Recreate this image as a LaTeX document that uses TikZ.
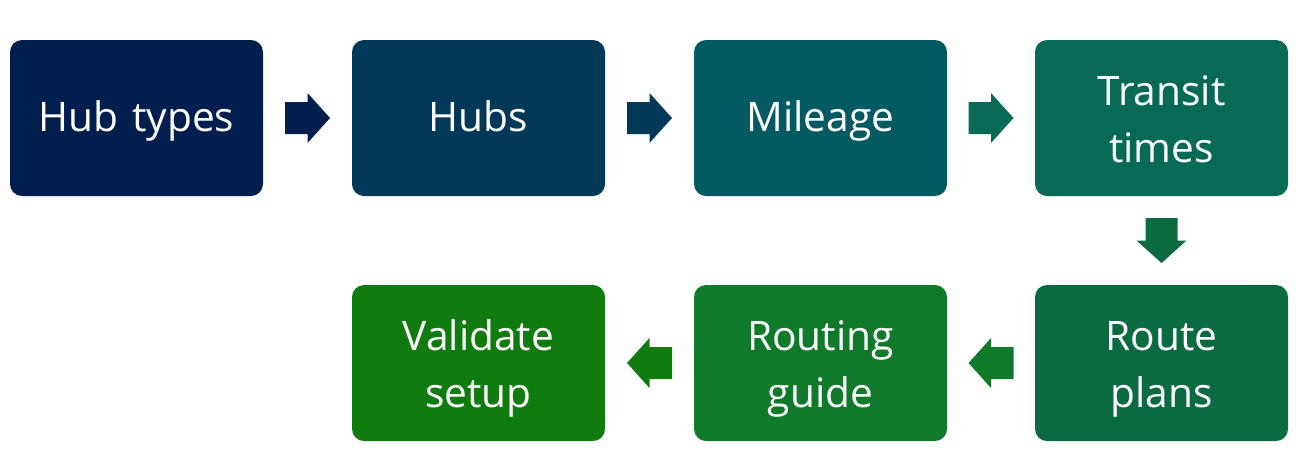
\documentclass[tikz,border=0pt]{standalone}
\usepackage{fontspec}
\setmainfont{Open Sans}
\usetikzlibrary{calc}

\definecolor{cHubTypes}{HTML}{001E4E}
\definecolor{cHubs}{HTML}{023858}
\definecolor{cMileage}{HTML}{045A62}
\definecolor{cTransit}{HTML}{066A55}
\definecolor{cRoute}{HTML}{0A6B40}
\definecolor{cGuide}{HTML}{0E7A2A}
\definecolor{cValidate}{HTML}{107C10}

\tikzset{
  box/.style={rounded corners=9pt, minimum width=189.75pt, minimum height=117pt,
    text=white, text width=180pt, align=center, inner sep=0pt,
    font=\fontsize{30.5}{40}\selectfont},
  oneline/.style={box,
    execute at begin node={\rule[-13.5pt]{0pt}{46.5pt}},
    execute at end node={\rule[-13.5pt]{0pt}{46.5pt}}},
  twoline/.style={box,
    execute at begin node={\rule[-9pt]{0pt}{41.5pt}},
    execute at end node={\rule[-9pt]{0pt}{41.5pt}}},
  blockarrow/.pic={
    \fill (-22.5,-16)--(0,-16)--(0,-25)--(22.5,0)--(0,25)--(0,16)--(-22.5,16)--cycle;
  }
}

\begin{document}
\begin{tikzpicture}[x=0.75pt, y=-0.75pt]

	\useasboundingbox (0,0) rectangle (1301,465);

	%top row

	\node[oneline, fill=cHubTypes] (hubtypes) at (136.5,118) {Hub types};
	\node[oneline, fill=cHubs] (hubs) at (478.5,118) {Hubs};
	\node[oneline, fill=cMileage] (mileage) at (820.5,118) {Mileage};
	\node[twoline, fill=cTransit] (transit) at (1161.5,118) {Transit\\times};


	%bottom row

	\node[twoline, fill=cRoute] (routeplans) at (1161.5,363) {Route\\plans};
	\node[twoline, fill=cGuide] (guide) at (820.5,363) {Routing\\guide};
	\node[twoline, fill=cValidate] (validate) at (478.5,363) {Validate\\setup};


	%arrows

	\pic[cHubTypes] at ($(hubtypes.east)!0.5!(hubs.west)$) {blockarrow};
	\pic[cHubs] at ($(hubs.east)!0.5!(mileage.west)$) {blockarrow};
	\pic[cTransit] at ($(mileage.east)!0.5!(transit.west)$) {blockarrow};
	\pic[cRoute, rotate=-90] at ($(transit.south)!0.5!(routeplans.north)$) {blockarrow};
	\pic[cGuide, rotate=180] at ($(routeplans.west)!0.5!(guide.east)$) {blockarrow};
	\pic[cValidate, rotate=180] at ($(guide.west)!0.5!(validate.east)$) {blockarrow};

\end{tikzpicture}
\end{document}
